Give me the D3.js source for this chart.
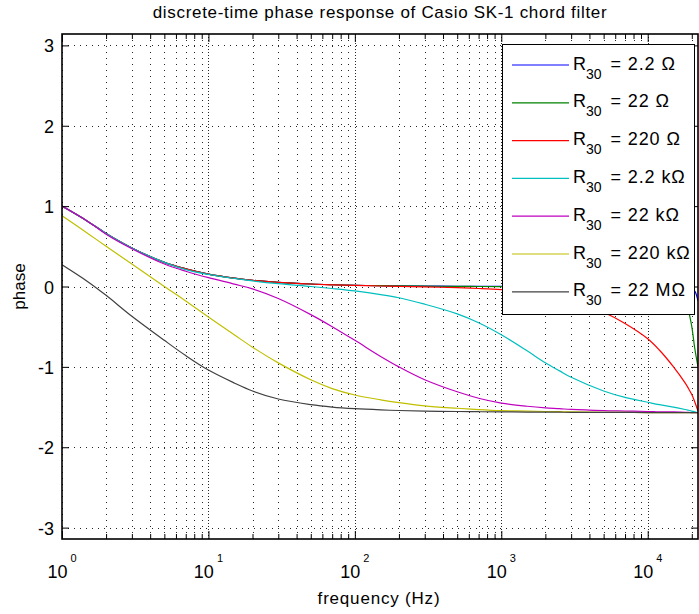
<!DOCTYPE html>
<html><head><meta charset="utf-8">
<script src="https://cdn.jsdelivr.net/npm/d3@7"></script>
<style>
body{margin:0;background:#fff}
svg{display:block}
text{font-family:"Liberation Sans",Arial,Helvetica,sans-serif;fill:#000}
</style>
</head><body>
<svg id="chart" width="699" height="614"></svg>
<script>
// ---------- data ----------
const frequencies = [1, 1.5, 2, 3, 5, 7, 10, 15, 20, 30, 50, 70, 100, 150, 200, 300, 500, 700,
  1000, 1500, 2000, 2500, 3000, 5000, 7000, 10000, 12000, 15000, 18000, 19000, 20000, 21000, 22050];

const legendLabels = ["2.2 Ω", "22 Ω", "220 Ω", "2.2 kΩ", "22 kΩ", "220 kΩ", "22 MΩ"];

const phaseR2_2 = [1.00, 0.81, 0.66, 0.48, 0.30, 0.22, 0.155, 0.105, 0.078, 0.052, 0.031, 0.022, 0.015, 0.010, 0.008, 0.005, 0.003, 0.002,
  0.001, 0.0, 0.0, 0.0, -0.001, -0.002, -0.003, -0.005, -0.007, -0.01, -0.015, -0.02, -0.03, -0.06, -0.18];
const phaseR22 = [1.00, 0.81, 0.66, 0.48, 0.30, 0.22, 0.155, 0.105, 0.078, 0.052, 0.031, 0.022, 0.015, 0.010, 0.007, 0.004, 0.002, 0.0,
  -0.002, -0.004, -0.005, -0.006, -0.007, -0.009, -0.012, -0.02, -0.03, -0.05, -0.12, -0.3, -0.5, -0.78, -1.0];
const phaseR220 = [1.00, 0.81, 0.66, 0.48, 0.30, 0.22, 0.155, 0.105, 0.078, 0.052, 0.031, 0.021, 0.013, 0.006, 0.002, -0.005, -0.015, -0.025,
  -0.04, -0.07, -0.10, -0.13, -0.17, -0.32, -0.46, -0.65, -0.79, -1.00, -1.20, -1.27, -1.345, -1.44, -1.55];
const phaseR2_2k = [1.00, 0.81, 0.66, 0.48, 0.30, 0.21, 0.15, 0.10, 0.07, 0.035, 0.0, -0.025, -0.055, -0.10, -0.14, -0.22, -0.34, -0.45,
  -0.60, -0.80, -0.95, -1.05, -1.13, -1.30, -1.38, -1.44, -1.47, -1.50, -1.53, -1.54, -1.55, -1.56, -1.57];
const phaseR22k = [1.00, 0.81, 0.65, 0.47, 0.28, 0.19, 0.11, 0.03, -0.03, -0.15, -0.35, -0.50, -0.67, -0.87, -1.00, -1.16, -1.31, -1.39,
  -1.45, -1.49, -1.51, -1.52, -1.53, -1.545, -1.55, -1.555, -1.56, -1.56, -1.565, -1.565, -1.57, -1.57, -1.57];
const phaseR220k = [0.88, 0.66, 0.50, 0.28, 0.0, -0.18, -0.38, -0.60, -0.755, -0.95, -1.16, -1.27, -1.35, -1.41, -1.445, -1.485, -1.515, -1.532,
  -1.545, -1.55, -1.555, -1.558, -1.56, -1.565, -1.567, -1.568, -1.569, -1.57, -1.57, -1.57, -1.57, -1.57, -1.57];
const phaseR22M = [0.27, 0.06, -0.11, -0.37, -0.67, -0.86, -1.04, -1.20, -1.30, -1.40, -1.47, -1.50, -1.52, -1.535, -1.543, -1.55, -1.555, -1.558,
  -1.56, -1.562, -1.563, -1.564, -1.565, -1.566, -1.567, -1.568, -1.569, -1.57, -1.57, -1.57, -1.57, -1.57, -1.57];

const seriesValues = [phaseR2_2, phaseR22, phaseR220, phaseR2_2k, phaseR22k, phaseR220k, phaseR22M];
const xTickExponents = [0, 1, 2, 3, 4];
const yTickValues = [-3, -2, -1, 0, 1, 2, 3];

const titleText = "discrete-time phase response of Casio SK-1 chord filter";
const xLabelText = "frequency (Hz)";
const yLabelText = "phase";

// ---------- style ----------
const colors = ["#0000ff", "#008000", "#ff0000", "#00bfbf", "#bf00bf", "#bfbf00", "#404040"];
const L = 62, R = 698, T = 34, B = 539;

const svg = d3.select("#chart");
const x = d3.scaleLog().domain([1, 22050]).range([L, R]);
const y = d3.scaleLinear().domain([-Math.PI, Math.PI]).range([B, T]);

const majorX = xTickExponents.map(e => Math.pow(10, e));
const minorX = [];
xTickExponents.forEach(e => { for (let m = 2; m <= 9; m++) { const v = m * Math.pow(10, e); if (v <= 22050) minorX.push(v); } });

svg.append("defs").append("clipPath").attr("id", "clip")
  .append("rect").attr("x", L).attr("y", T).attr("width", R - L).attr("height", B - T);

// grid
const grid = svg.append("g").attr("stroke", "#000").attr("stroke-width", 1)
  .attr("stroke-dasharray", "1,5").attr("shape-rendering", "crispEdges").attr("opacity", 0.85);
grid.selectAll("line.vmin").data(minorX.concat(majorX)).enter().append("line")
  .attr("x1", d => Math.round(x(d)) + 0.5).attr("x2", d => Math.round(x(d)) + 0.5)
  .attr("y1", B).attr("y2", T);
grid.selectAll("line.vmaj").data(majorX.slice(1)).enter().append("line")
  .attr("stroke-dashoffset", 3)
  .attr("x1", d => Math.round(x(d)) + 0.5).attr("x2", d => Math.round(x(d)) + 0.5)
  .attr("y1", B).attr("y2", T);
grid.selectAll("line.h").data(yTickValues).enter().append("line")
  .attr("x1", L).attr("x2", R)
  .attr("y1", d => Math.round(y(d)) + 0.5).attr("y2", d => Math.round(y(d)) + 0.5);

// curves
const line = d3.line().x(d => x(d[0])).y(d => y(d[1])).curve(d3.curveCatmullRom.alpha(0.5));
const curves = svg.append("g").attr("clip-path", "url(#clip)");
seriesValues.forEach((vals, i) => {
  curves.append("path")
    .datum(frequencies.map((f, j) => [f, vals[j]]))
    .attr("fill", "none").attr("stroke", colors[i]).attr("stroke-width", 1.2)
    .attr("d", line);
});

// axes ticks (inward, on all four sides)
function styleAxis(g) {
  g.select(".domain").remove();
  g.selectAll(".tick text").remove();
  g.selectAll(".tick line").attr("stroke", "#000").attr("stroke-width", 1);
}
svg.append("g").attr("transform", `translate(0,${B})`)
  .call(d3.axisBottom(x).tickValues(majorX).tickSize(-8)).call(styleAxis);
svg.append("g").attr("transform", `translate(0,${B})`)
  .call(d3.axisBottom(x).tickValues(minorX).tickSize(-5)).call(styleAxis);
svg.append("g").attr("transform", `translate(0,${T})`)
  .call(d3.axisTop(x).tickValues(majorX).tickSize(-8)).call(styleAxis);
svg.append("g").attr("transform", `translate(0,${T})`)
  .call(d3.axisTop(x).tickValues(minorX).tickSize(-5)).call(styleAxis);
svg.append("g").attr("transform", `translate(${L},0)`)
  .call(d3.axisLeft(y).tickValues(yTickValues).tickSize(-7)).call(styleAxis);
svg.append("g").attr("transform", `translate(${R},0)`)
  .call(d3.axisRight(y).tickValues(yTickValues).tickSize(-7)).call(styleAxis);

// box
svg.append("rect").attr("x", L).attr("y", T).attr("width", R - L).attr("height", B - T)
  .attr("fill", "none").attr("stroke", "#000").attr("stroke-width", 1.6);

// tick labels
const xl = svg.append("g");
xTickExponents.forEach(e => {
  const t = xl.append("text").attr("x", x(Math.pow(10, e))).attr("y", 578)
    .attr("text-anchor", "middle").style("font-size", "18px");
  t.append("tspan").text("10");
  t.append("tspan").attr("dx", 3).attr("dy", -16).style("font-size", "11px").text(String(e));
});
svg.append("g").selectAll("text").data(yTickValues).enter().append("text")
  .attr("x", 54).attr("y", d => y(d) + 7).attr("text-anchor", "end")
  .style("font-size", "18px").text(d => d);

// fit text to a target width using letter-spacing
function fitText(sel, target) {
  const n = sel.text().length;
  const w = sel.node().getComputedTextLength();
  sel.attr("letter-spacing", ((target - w) / (n - 1)).toFixed(3));
}

const title = svg.append("text").attr("x", 380).attr("y", 18).attr("text-anchor", "middle")
  .style("font-size", "17px").text(titleText);
fitText(title, 454);

const xlab = svg.append("text").attr("x", 379).attr("y", 604).attr("text-anchor", "middle")
  .style("font-size", "17px").text(xLabelText);
fitText(xlab, 122);

svg.append("text").attr("transform", `translate(25,${(T + B) / 2}) rotate(-90)`)
  .attr("text-anchor", "middle").style("font-size", "17px").text(yLabelText);

// legend
const lg = svg.append("g");
lg.append("rect").attr("x", 502.5).attr("y", 44.5).attr("width", 192).attr("height", 270)
  .attr("fill", "#fff").attr("stroke", "#000").attr("stroke-width", 1);
legendLabels.forEach((lab, i) => {
  const cy = 65 + i * 37.8;
  lg.append("line").attr("x1", 512).attr("x2", 569).attr("y1", cy).attr("y2", cy)
    .attr("stroke", colors[i]).attr("stroke-width", 1.2);
  const t = lg.append("text").attr("x", 573).attr("y", cy + 4.5).style("font-size", "18px");
  t.append("tspan").text("R");
  t.append("tspan").attr("dy", 9).style("font-size", "14px").text("30");
  t.append("tspan").attr("dy", -9).attr("dx", 3).attr("letter-spacing", 0.9).text(" = " + lab);
});
</script>
</body></html>
